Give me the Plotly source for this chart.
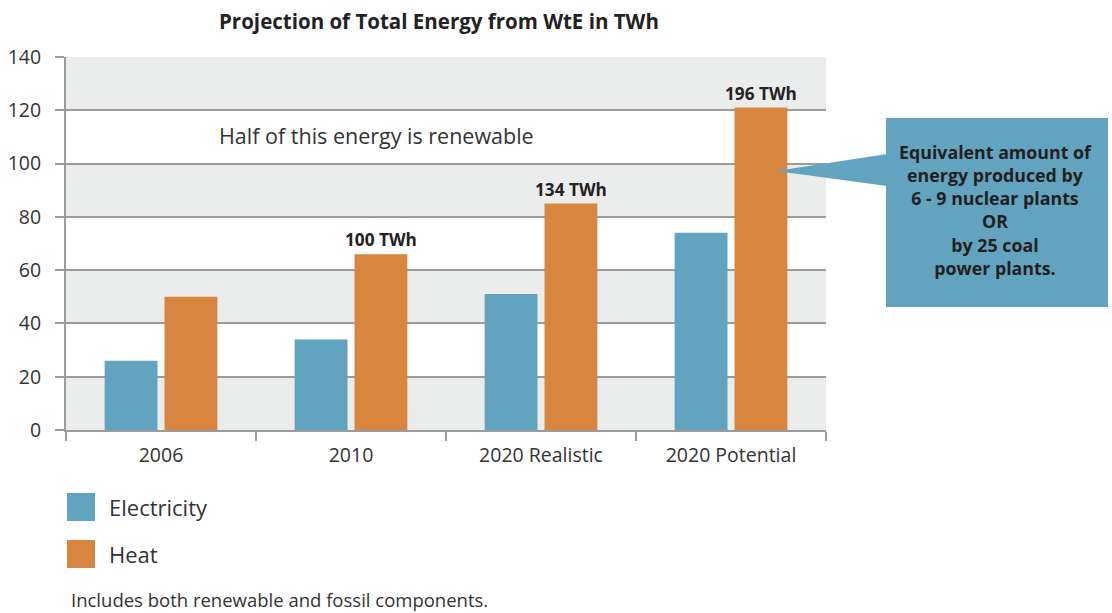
import plotly.graph_objects as go

# ---- data ----
categories = ["2006", "2010", "2020 Realistic", "2020 Potential"]
electricity = [26, 34, 51, 74]
heat = [50, 66, 85, 121]
heat_labels = ["", "100 TWh", "134 TWh", "196 TWh"]
series_names = ["Electricity", "Heat"]
y_ticks = [0, 20, 40, 60, 80, 100, 120, 140]

BLUE = "#62a3bf"
ORANGE = "#d88540"
BAND = "#ebecec"
GRID = "#9b9b9b"
TXT = "#333333"
FONT = "'Open Sans', sans-serif"

W, H = 1112, 613
L, R, T, B = 66, 826, 57, 430  # plot area in pixels


def px(x):
    return (x - L) / (R - L)


def py(y):
    return (B - y) / (B - T)


fig = go.Figure()
fig.add_trace(go.Bar(x=categories, y=electricity, name=series_names[0],
                     marker=dict(color=BLUE, line=dict(width=0)), showlegend=False))
fig.add_trace(go.Bar(x=categories, y=heat, name=series_names[1],
                     marker=dict(color=ORANGE, line=dict(width=0)),
                     text=heat_labels, texttemplate="<b>%{text}</b>",
                     textposition="outside", cliponaxis=False, constraintext="none",
                     outsidetextfont=dict(family=FONT, size=17.2, color="#222222"),
                     textfont=dict(family=FONT, size=17.2, color="#222222"),
                     showlegend=False))

shapes = []
# alternating background bands
for i in range(0, len(y_ticks) - 1, 2):
    shapes.append(dict(type="rect", xref="paper", yref="y", x0=0, x1=1,
                       y0=y_ticks[i], y1=y_ticks[i + 1], fillcolor=BAND,
                       line=dict(width=0), layer="below"))

# callout box with pointer
shapes.append(dict(type="rect", xref="paper", yref="paper",
                   x0=px(886), x1=px(1108), y0=py(307), y1=py(118),
                   fillcolor=BLUE, line=dict(width=0)))
shapes.append(dict(type="path", xref="paper", yref="paper",
                   path=f"M {px(776)} {py(171)} L {px(887)} {py(154)} L {px(887)} {py(186)} Z",
                   fillcolor=BLUE, line=dict(width=0)))

# legend squares
colors = [BLUE, ORANGE]
leg_y = [(493, 521), (540, 568)]
for c, (a, b) in zip(colors, leg_y):
    shapes.append(dict(type="rect", xref="paper", yref="paper",
                       x0=px(67), x1=px(95), y0=py(b), y1=py(a),
                       fillcolor=c, line=dict(width=0)))

annotations = [
    dict(text="<b>Projection of Total Energy from WtE in TWh</b>", xref="paper", yref="paper",
         x=px(439), y=py(21), xanchor="center", yanchor="middle", showarrow=False,
         font=dict(family=FONT, size=20.5, color="#222222")),
    dict(text="Half of this energy is renewable", xref="paper", yref="paper",
         x=px(217), y=py(135), xanchor="left", yanchor="middle", showarrow=False,
         font=dict(family=FONT, size=21.5, color=TXT)),
    dict(text="<b>Equivalent amount of<br>energy produced by<br>6 - 9 nuclear plants<br>OR<br>by 25 coal<br>power plants.</b>",
         xref="paper", yref="paper", x=px(995), y=py(210), xanchor="center", yanchor="middle",
         showarrow=False, align="center",
         font=dict(family=FONT, size=17.8, color="#231f20")),
    dict(text="Includes both renewable and fossil components.", xref="paper", yref="paper",
         x=px(69), y=py(599), xanchor="left", yanchor="middle", showarrow=False,
         font=dict(family=FONT, size=18.5, color=TXT)),
]
for name, (a, b) in zip(series_names, leg_y):
    annotations.append(dict(text=name, xref="paper", yref="paper", x=px(107), y=py((a + b) / 2),
                            xanchor="left", yanchor="middle", showarrow=False,
                            font=dict(family=FONT, size=22, color=TXT)))

fig.update_layout(
    width=W, height=H,
    margin=dict(l=L, r=W - R, t=T, b=H - B, pad=0, autoexpand=False),
    paper_bgcolor="white", plot_bgcolor="white",
    barmode="group", bargap=0.37, bargroupgap=0.117,
    shapes=shapes, annotations=annotations,
    font=dict(family=FONT, color=TXT),
    showlegend=False,
)
fig.update_xaxes(
    type="category", tickson="boundaries", ticks="outside", ticklen=9, tickwidth=2,
    tickcolor=GRID, showline=True, linecolor=GRID, linewidth=2, showgrid=False,
    tickfont=dict(family=FONT, size=19.5, color=TXT), ticklabelstandoff=7,
    range=[-0.5, 3.5], automargin=False,
)
fig.update_yaxes(
    range=[0, 140], tickvals=y_ticks, ticks="outside", ticklen=9, tickwidth=2,
    tickcolor=GRID, showline=True, linecolor=GRID, linewidth=2, showgrid=True,
    gridcolor=GRID, gridwidth=2, zeroline=False,
    tickfont=dict(family=FONT, size=19.5, color=TXT), ticklabelstandoff=10,
    automargin=False,
)

fig.write_html(
    "out.html",
    config={"displayModeBar": False},
    post_script="document.body.style.margin='0';document.body.style.overflow='hidden';",
)
